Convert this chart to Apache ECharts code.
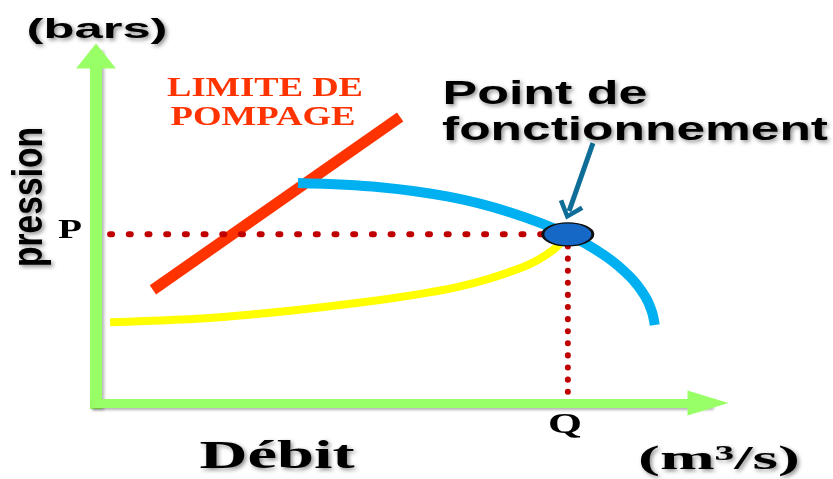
<!DOCTYPE html>
<html>
<head>
<meta charset="utf-8">
<script src="https://cdn.jsdelivr.net/npm/echarts@6/dist/echarts.min.js"></script>
<style>
  html, body { margin: 0; padding: 0; background: #fff; }
  #chart { width: 833px; height: 479px; }
</style>
</head>
<body>
<div id="chart"></div>
<script>
// schematic units, 0..100 on both axes
const pumpCurve = [[33.0, 63.4], [46.4, 62.2], [57.8, 59.4], [67.6, 55.0], [77.1, 48.6],
  [83.2, 42.4], [87.3, 36.3], [89.7, 30.8], [90.8, 26.5], [91.3, 22.5]];
const networkCurve = [[2.3, 23.3], [20.8, 24.8], [42.6, 28.8], [59.0, 33.4], [69.8, 39.2],
  [74.7, 44.1], [77.1, 48.6]];
const surgeLine = [[9.3, 32.6], [49.7, 82.4]];
const operatingPoint = [77.1, 48.6];
const pLineStartX = 2.3;
const pointerArrow = [[81.2, 74.9], [77.3, 55.3]];

const chart = echarts.init(document.getElementById("chart"));

const measure = document.createElement("canvas").getContext("2d");
function fit(text, font, width) {
  measure.font = font;
  return width / measure.measureText(text).width;
}

const SANS = '"Liberation Sans", Arial, sans-serif';
const SERIF = '"Liberation Serif", "Times New Roman", serif';
const shadow = {
  textShadowColor: "rgba(0,0,0,0.45)",
  textShadowBlur: 4,
  textShadowOffsetX: 2,
  textShadowOffsetY: 2
};

function label(text, font, x, y, width, fill, extra) {
  return {
    type: "text",
    x: x,
    y: y,
    scaleX: fit(text, font, width),
    silent: true,
    z: 100,
    style: Object.assign({
      text: text,
      font: font,
      fill: fill || "#000",
      align: "center",
      verticalAlign: "middle"
    }, extra || {})
  };
}

const fBars = "bold 28px " + SANS;
const fRed = "bold 27px " + SERIF;
const fPoint = "bold 33px " + SANS;
const fPress = "bold 42px " + SANS;
const fP = "bold 27px " + SERIF;
const fQ = "bold 30px " + SERIF;
const fDebit = "bold 40px " + SERIF;
const fUnit = "bold 34px " + SERIF;

const pression = label("pression", fPress, 30, 197, 140, "#000", shadow);
pression.rotation = Math.PI / 2;

chart.setOption({
  animation: false,
  grid: { left: 96, right: 125, top: 56, bottom: 76 },
  xAxis: {
    type: "value",
    min: 0,
    max: 100,
    axisLine: {
      show: true,
      symbol: ["none", "triangle"],
      symbolSize: [25, 41],
      lineStyle: {
        color: "#99ff66",
        width: 9,
        cap: "square",
        shadowColor: "rgba(0,0,0,0.3)",
        shadowBlur: 3,
        shadowOffsetX: 1,
        shadowOffsetY: 2
      }
    },
    axisTick: { show: false },
    axisLabel: { show: false },
    splitLine: { show: false }
  },
  yAxis: {
    type: "value",
    min: 0,
    max: 100,
    axisLine: {
      show: true,
      symbol: ["none", "triangle"],
      symbolSize: [40, 25],
      lineStyle: {
        color: "#99ff66",
        width: 12,
        cap: "square",
        shadowColor: "rgba(0,0,0,0.3)",
        shadowBlur: 3,
        shadowOffsetX: 2,
        shadowOffsetY: 1
      }
    },
    axisTick: { show: false },
    axisLabel: { show: false },
    splitLine: { show: false }
  },
  series: [
    {
      name: "limite",
      type: "line",
      data: surgeLine,
      symbol: "none",
      lineStyle: { color: "#ff3300", width: 11, cap: "butt" }
    },
    {
      name: "pompe",
      type: "line",
      data: pumpCurve,
      smooth: 0.35,
      symbol: "none",
      lineStyle: { color: "#00b0f0", width: 10, cap: "butt" }
    },
    {
      name: "reseau",
      type: "line",
      data: networkCurve,
      smooth: 0.35,
      symbol: "none",
      lineStyle: { color: "#ffff00", width: 8, cap: "butt" }
    },
    {
      name: "P",
      type: "line",
      data: [[pLineStartX, operatingPoint[1]], operatingPoint],
      symbol: "none",
      lineStyle: { color: "#c00000", width: 6, type: [2, 16.7], cap: "round" }
    },
    {
      name: "Q",
      type: "line",
      data: [operatingPoint, [operatingPoint[0], 0]],
      symbol: "none",
      lineStyle: { color: "#c00000", width: 6, type: [0.1, 12], cap: "round" }
    },
    {
      name: "point",
      type: "scatter",
      data: [operatingPoint],
      symbol: "circle",
      symbolSize: [50, 23],
      z: 10,
      itemStyle: { color: "#1668c6", borderColor: "#111", borderWidth: 2, opacity: 1 },
      markLine: {
        silent: true,
        symbol: ["none", "path://M50,0 L100,62 L86,74 L50,28 L14,74 L0,62 Z"],
        symbolSize: [26, 18],
        label: { show: false },
        lineStyle: { color: "#0f6e97", width: 5, type: "solid" },
        data: [[{ coord: pointerArrow[0] }, { coord: pointerArrow[1] }]]
      }
    }
  ],
  graphic: [
    label("(bars)", fBars, 97, 30, 141, "#000", shadow),
    pression,
    label("LIMITE DE", fRed, 265, 89, 196, "#ff3300"),
    label("POMPAGE", fRed, 263, 118, 185, "#ff3300"),
    label("Point de", fPoint, 545, 95, 205, "#000", shadow),
    label("fonctionnement", fPoint, 635, 131, 386, "#000", shadow),
    label("P", fP, 70, 231, 24, "#000"),
    label("Q", fQ, 565, 425, 34, "#000"),
    label("Débit", fDebit, 277, 458, 155, "#000", shadow),
    label("(m³/s)", fUnit, 719, 460, 162, "#000", shadow)
  ]
});
</script>
</body>
</html>
